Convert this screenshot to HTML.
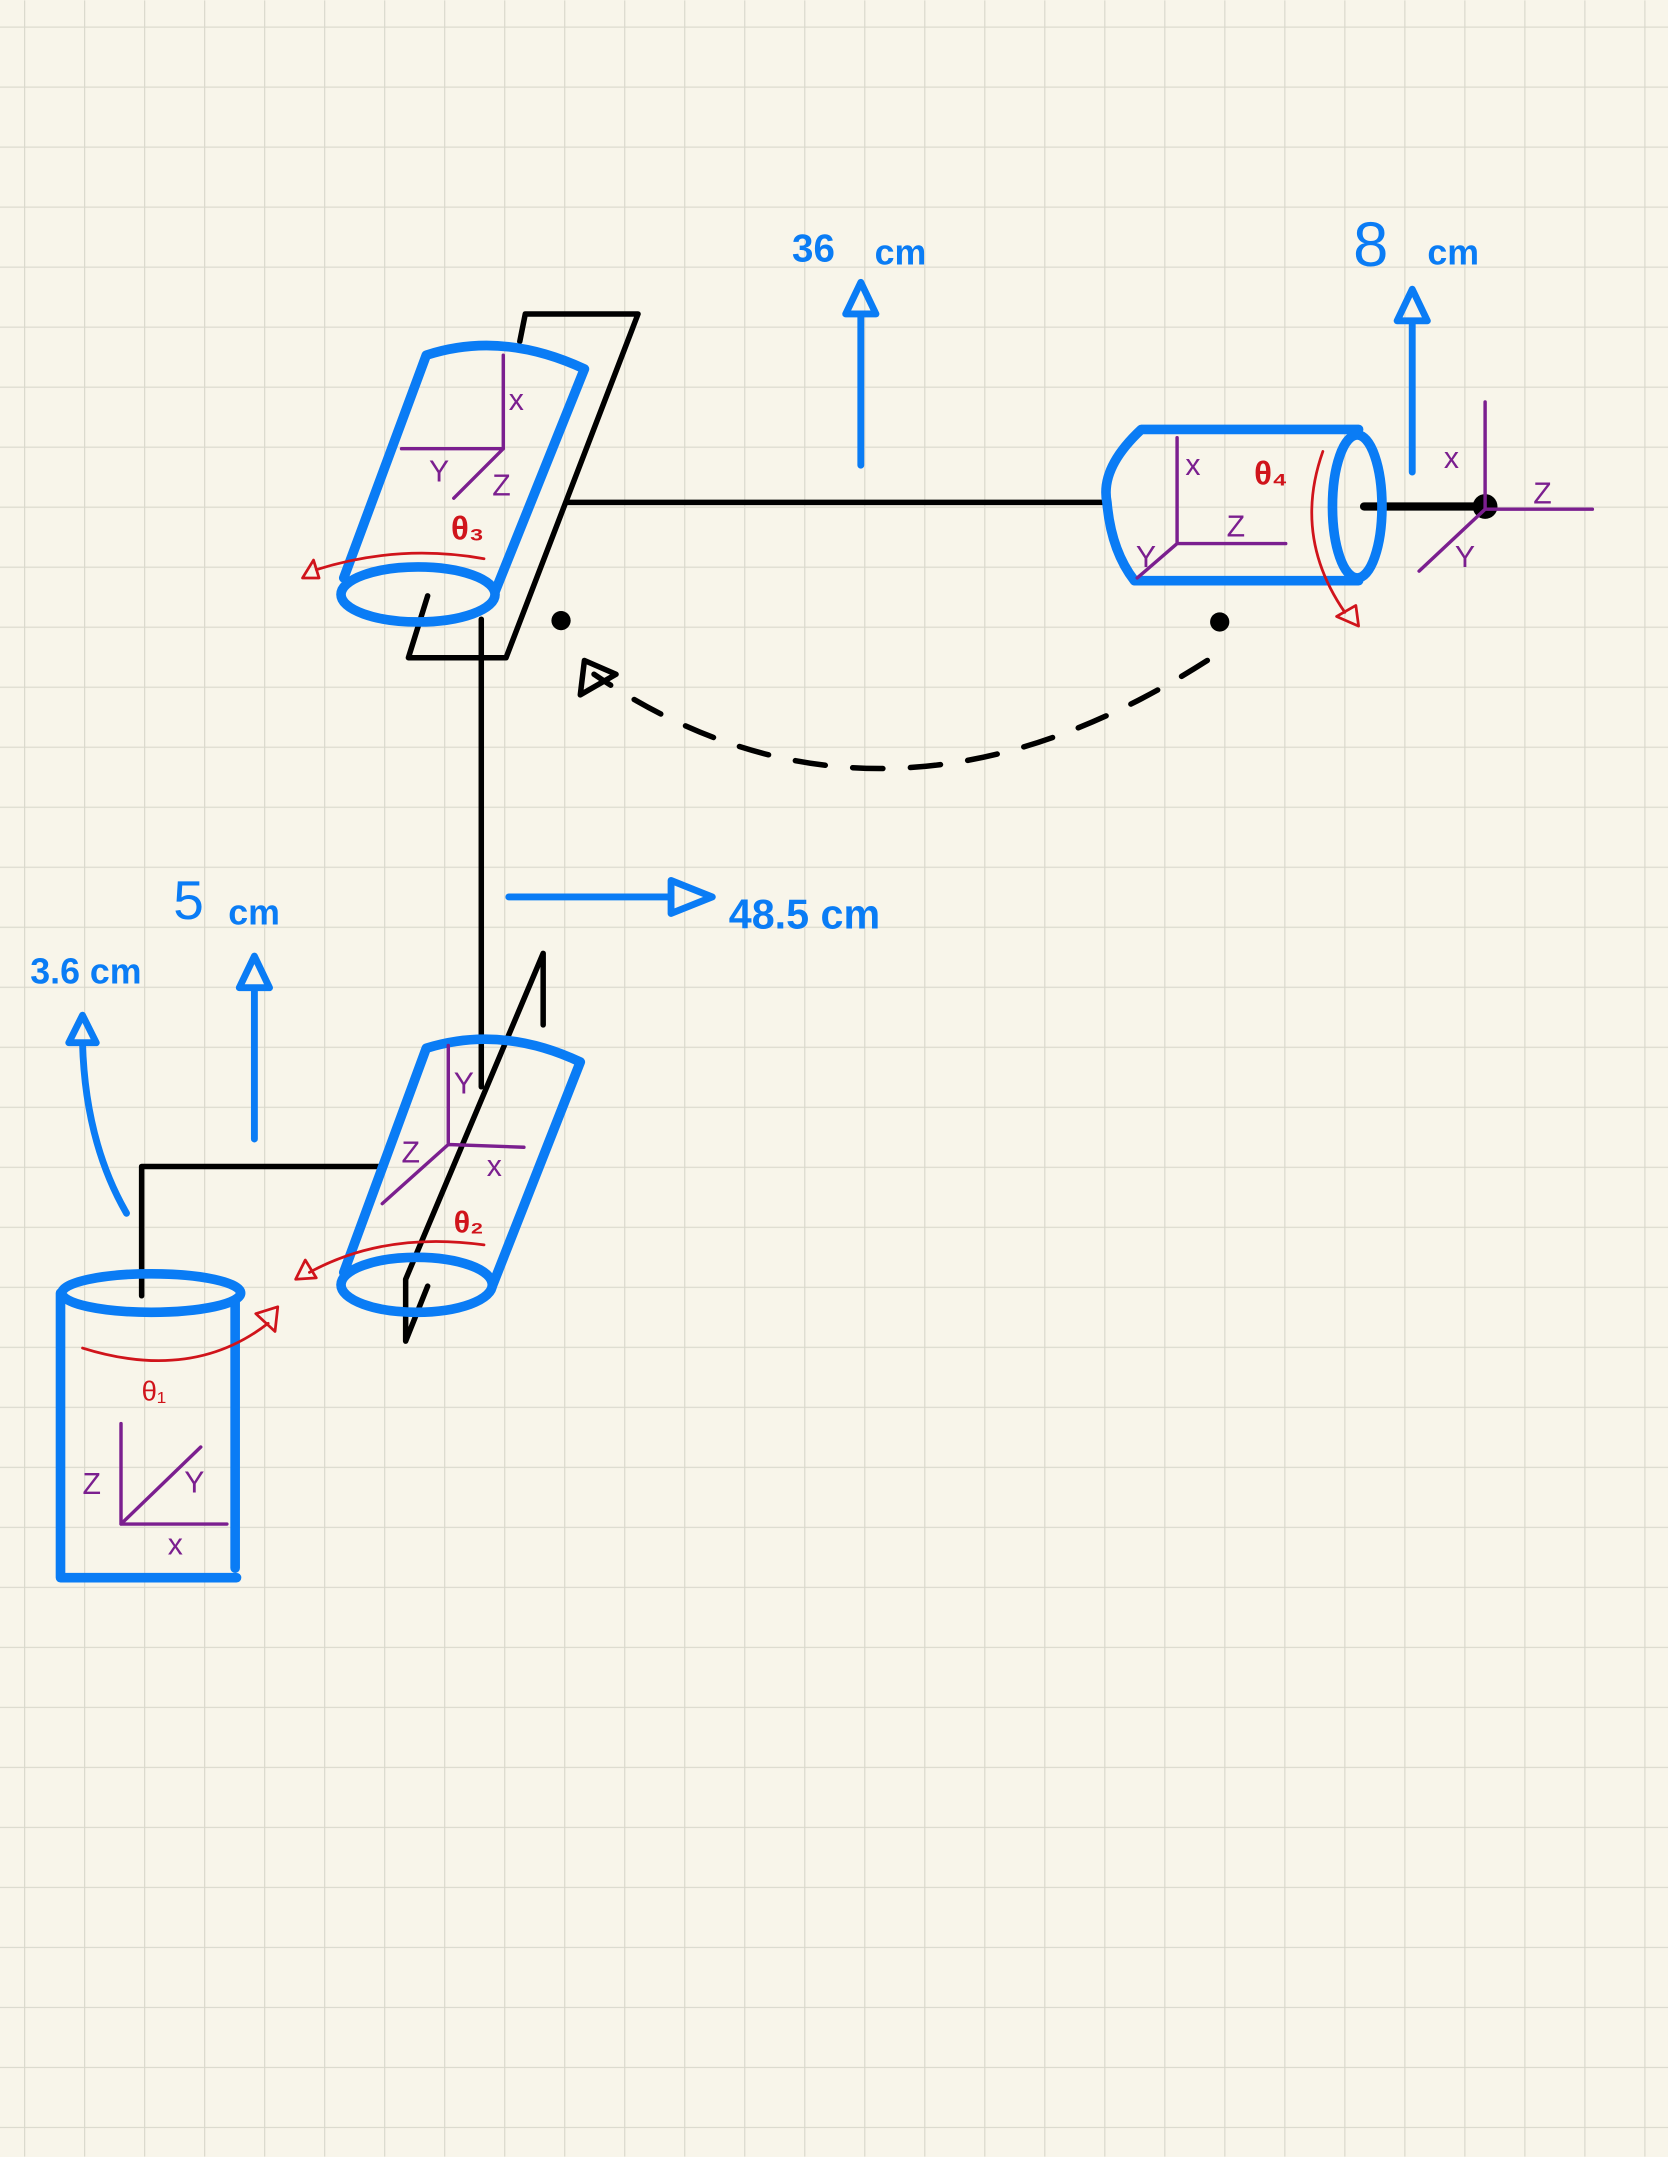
<!DOCTYPE html>
<html><head><meta charset="utf-8"><style>
html,body{margin:0;padding:0;background:#f8f5ea;}
svg{display:block;}
text{font-family:"Liberation Sans",sans-serif;}
</style></head><body>
<svg width="1668" height="2157" viewBox="0 0 1213 1568" xmlns="http://www.w3.org/2000/svg">
<defs>
<pattern id="g" x="17.5" y="19" width="43.64" height="43.64" patternUnits="userSpaceOnUse">
<path d="M0 0H43.64M0 0V43.64" stroke="#d9d8cc" stroke-width="1.7" fill="none"/>
</pattern>
</defs>
<rect width="1213" height="1568" fill="#f8f5ea"/>
<rect width="1213" height="1568" fill="url(#g)"/>

<g fill="none" stroke-linecap="round" stroke-linejoin="round">
<g stroke="#000" stroke-width="4">
<path d="M378 248L382 228H464L368 478H297L311 433"/>
<path d="M350 450V790"/>
<path d="M412 365H802"/>
<path d="M395 745V693L295 930V975L311 935"/>
<path d="M103 942V848H275"/>
<path d="M992 368H1080" stroke-width="6"/>
<path d="M878 480Q640 632 432 490" stroke-dasharray="22 20"/>
<path d="M422 505L425 480L448 490Z"/>
</g>
<circle cx="408" cy="451" r="7" fill="#000"/>
<circle cx="887" cy="452" r="7" fill="#000"/>
<circle cx="1080" cy="368" r="9" fill="#000"/>

<g stroke="#0a7cf5" stroke-width="7">
<path d="M310 258Q365 240 425 268M310 258L250 420M425 268L360 430"/>
<ellipse cx="304" cy="432" rx="56" ry="20"/>
<path d="M830 312H988M825 422H988M830 312Q800 340 805 365Q808 400 825 422"/>
<ellipse cx="987" cy="368" rx="18" ry="52"/>
<path d="M310 762Q365 745 422 772M310 762L250 925M422 772L358 935"/>
<ellipse cx="303" cy="934" rx="55" ry="20"/>
<ellipse cx="110" cy="940" rx="65" ry="14"/>
<path d="M44 940V1147H172M171 945V1140"/>
</g>
<g stroke="#0a7cf5" stroke-width="5">
<path d="M626 338V228M615 228L626 205L637 228Z"/>
<path d="M1027 343V233M1016 233L1027 210L1038 233Z"/>
<path d="M370 652H488M488 640L518 652L488 664Z"/>
<path d="M185 828V718M174 718L185 695L196 718Z"/>
<path d="M92 882Q62 830 60 758M50 758L60 738L70 758Z"/>
</g>
<g stroke="#7b1f8f" stroke-width="2.5">
<path d="M366 258V326H292M366 326L330 362"/>
<path d="M1080 292V370H1158M1080 370L1032 415"/>
<path d="M856 318V395H935M856 395L827 420"/>
<path d="M326 760V832L381 834M326 832L278 875"/>
<path d="M88 1035V1108H165M88 1108L146 1052"/>
</g>
<g stroke="#d0141b" stroke-width="2">
<path d="M352 406Q290 395 230 414M220 420L228 407L232 420Z"/>
<path d="M962 328Q940 390 978 445M972 448L988 455L986 440Z"/>
<path d="M352 905Q280 895 225 925M215 930L222 916L230 929Z"/>
<path d="M60 980Q140 1005 195 962M186 955L202 950L200 968Z"/>
</g>
</g>

<g fill="#0a7cf5" font-weight="bold">
<text x="576" y="190" font-size="28">36</text>
<text x="636" y="192" font-size="26">cm</text>
<text x="984" y="193" font-size="46" font-weight="normal">8</text>
<text x="1038" y="192" font-size="26">cm</text>
<text x="530" y="675" font-size="30">48.5 cm</text>
<text x="126" y="668" font-size="40" font-weight="normal">5</text>
<text x="166" y="672" font-size="26">cm</text>
<text x="22" y="715" font-size="26">3.6 cm</text>
</g>
<g fill="#7b1f8f" font-size="22">
<text x="370" y="298">x</text><text x="312" y="350">Y</text><text x="358" y="360">Z</text>
<text x="1050" y="340">x</text><text x="1115" y="366">Z</text><text x="1058" y="412">Y</text>
<text x="862" y="345">x</text><text x="892" y="390">Z</text><text x="826" y="412">Y</text>
<text x="330" y="795">Y</text><text x="292" y="845">Z</text><text x="354" y="855">x</text>
<text x="60" y="1086">Z</text><text x="134" y="1085">Y</text><text x="122" y="1130">x</text>
</g>
<g fill="#d0141b" font-weight="bold">
<text x="328" y="392" font-size="24">θ₃</text>
<text x="912" y="352" font-size="24">θ₄</text>
<text x="330" y="896" font-size="22">θ₂</text>
<text x="103" y="1018" font-size="20" font-weight="normal">θ₁</text>
</g>
</svg>
</body></html>
